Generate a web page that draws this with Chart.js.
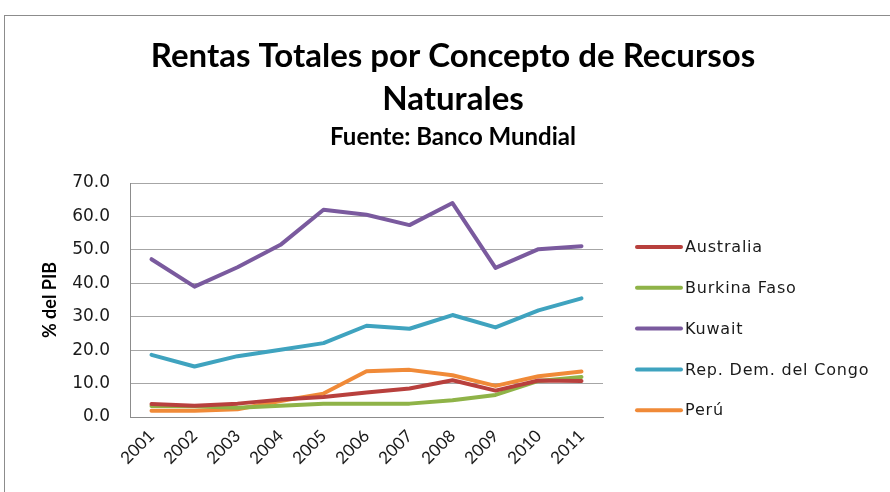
<!DOCTYPE html>
<html>
<head>
<meta charset="utf-8">
<script src="https://cdn.jsdelivr.net/npm/chart.js@4.4.1/dist/chart.umd.min.js"></script>
<style>
    html, body { margin: 0; padding: 0; background: #ffffff; }
    #wrap { position: relative; width: 890px; height: 492px; overflow: hidden; }
    #frame { position: absolute; left: 4px; top: 15px; width: 1000px; height: 1000px; border: 1px solid #8c8c8c; }
    #main { position: absolute; left: 0; top: 0; }
</style>
</head>
<body>
<div id="wrap">
    <div id="frame"></div>
    <canvas id="main" width="890" height="492"></canvas>
</div>
<script>
// datos (% del PIB)
const years = ['2001', '2002', '2003', '2004', '2005', '2006', '2007', '2008', '2009', '2010', '2011'];
const australia = [3.9, 3.4, 4.0, 5.2, 6.0, 7.3, 8.5, 11.0, 7.9, 10.9, 10.8];
const burkinaFaso = [3.3, 3.2, 2.8, 3.4, 4.0, 4.0, 4.0, 5.0, 6.6, 10.8, 12.0];
const kuwait = [47.2, 39.0, 44.8, 51.5, 62.0, 60.5, 57.4, 64.0, 44.6, 50.2, 51.1];
const congo = [18.6, 15.1, 18.2, 20.1, 22.1, 27.3, 26.4, 30.5, 26.8, 31.9, 35.5];
const peru = [1.9, 1.9, 2.3, 4.8, 7.0, 13.7, 14.1, 12.5, 9.3, 12.2, 13.6];
const yTicks = [0, 10, 20, 30, 40, 50, 60, 70];

const titleFont = "Lato, 'Open Sans', sans-serif";
const textFont = "'DejaVu Sans', sans-serif";

function serie(label, data, color) {
    return {
        label: label,
        data: data,
        borderColor: color,
        backgroundColor: color,
        borderWidth: 4,
        pointRadius: 0,
        tension: 0,
        borderCapStyle: 'round',
        borderJoinStyle: 'round'
    };
}

// leyenda a la derecha, dibujada a mano (la de Chart.js queda demasiado estrecha)
const sideLegend = {
    id: 'sideLegend',
    afterDraw: function(chart) {
        const ctx = chart.ctx;
        const area = chart.chartArea;
        const x0 = area.right + 32;
        ctx.save();
        ctx.font = '16px ' + textFont;
        ctx.letterSpacing = '0.8px';
        ctx.textBaseline = 'middle';
        ctx.textAlign = 'left';
        chart.data.datasets.forEach(function(ds, i) {
            const y = area.top + 64 + i * 40.8;
            ctx.strokeStyle = ds.borderColor;
            ctx.lineWidth = 4;
            ctx.lineCap = 'round';
            ctx.beginPath();
            ctx.moveTo(x0 + 2, y);
            ctx.lineTo(x0 + 46, y);
            ctx.stroke();
            ctx.fillStyle = '#1a1a1a';
            ctx.fillText(ds.label, x0 + 50, y + 1);
        });
        ctx.restore();
    }
};

window.onload = function() {
    var main = document.getElementById('main').getContext('2d');
    var myChart = new Chart(main, {
        type: 'line',
        data: {
            labels: years,
            datasets: [
                serie('Australia', australia, '#b8403d'),
                serie('Burkina Faso', burkinaFaso, '#8fb348'),
                serie('Kuwait', kuwait, '#7a5a9e'),
                serie('Rep. Dem. del Congo', congo, '#3fa3bf'),
                serie('Perú', peru, '#f08a38')
            ]
        },
        options: {
            responsive: false,
            animation: false,
            layout: { padding: { left: 16, right: 0, top: 0, bottom: 0 } },
            plugins: {
                title: {
                    display: true,
                    text: ['Rentas Totales por Concepto de Recursos', 'Naturales'],
                    color: '#000000',
                    font: { family: titleFont, size: 33, weight: 'bold', lineHeight: '43px' },
                    padding: { top: 35, bottom: 0 }
                },
                subtitle: {
                    display: true,
                    text: 'Fuente: Banco Mundial',
                    color: '#000000',
                    font: { family: titleFont, size: 24, weight: 'bold', lineHeight: '24px' },
                    padding: { top: 4, bottom: 34 }
                },
                legend: { display: false },
                tooltip: { enabled: false }
            },
            scales: {
                x: {
                    offset: true,
                    grid: { display: false, drawTicks: false },
                    border: { display: true, color: '#8c8c8c', width: 1 },
                    ticks: {
                        color: '#1a1a1a',
                        font: { family: titleFont, size: 17 },
                        minRotation: 45,
                        maxRotation: 45,
                        padding: 9
                    },
                    afterFit: function(scale) { scale.height = 75; }
                },
                y: {
                    min: 0,
                    max: 70,
                    afterBuildTicks: function(scale) {
                        scale.ticks = yTicks.map(function(v) { return { value: v }; });
                    },
                    grid: { color: '#a6a6a6', drawTicks: false },
                    border: { display: true, color: '#8c8c8c', width: 1 },
                    ticks: {
                        color: '#1a1a1a',
                        font: { family: textFont, size: 17 },
                        padding: 20,
                        callback: function(v) { return Number(v).toFixed(1); }
                    },
                    title: {
                        display: true,
                        text: '% del PIB',
                        color: '#000000',
                        font: { family: titleFont, size: 18, weight: 'bold' },
                        padding: { top: 23, bottom: 0 }
                    },
                    afterFit: function(scale) { scale.width = 114; }
                },
                y2: {
                    position: 'right',
                    display: true,
                    grid: { display: false, drawTicks: false },
                    border: { display: false },
                    ticks: { display: false },
                    afterFit: function(scale) { scale.width = 287; }
                }
            }
        },
        plugins: [sideLegend]
    });
};
</script>
</body>
</html>
